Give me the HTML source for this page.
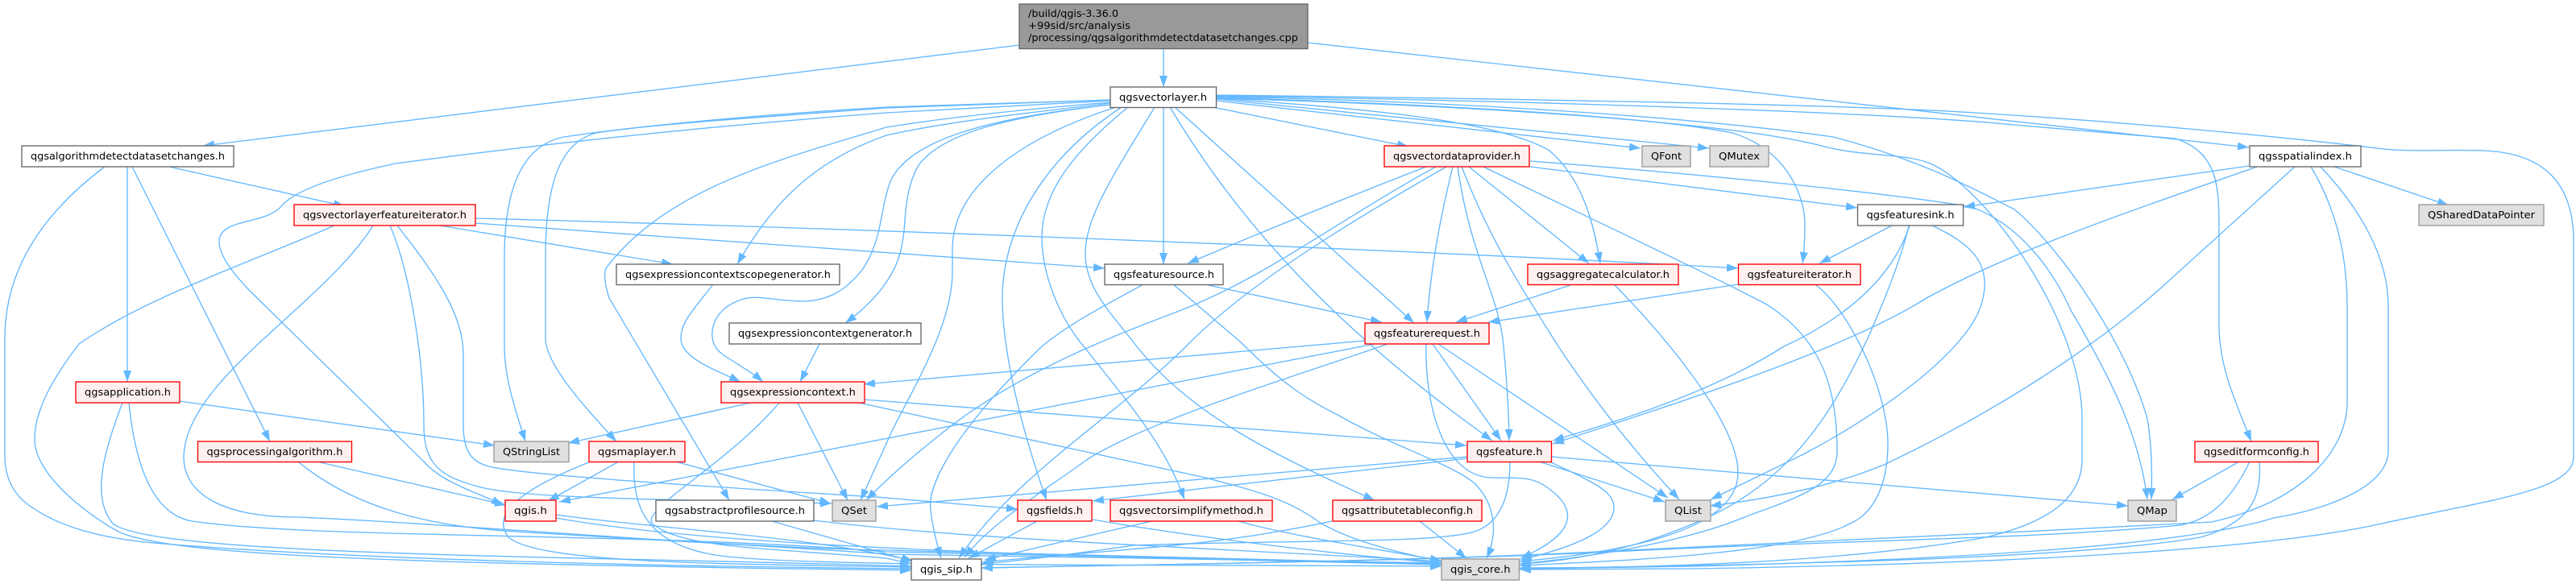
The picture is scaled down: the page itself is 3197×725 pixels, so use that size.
<!DOCTYPE html>
<html><head><meta charset="utf-8"><title>Include graph</title>
<style>
html,body{margin:0;padding:0;background:#fff;width:3197px;height:725px;overflow:hidden}
svg{display:block}
.e path{fill:none;stroke:#63b8ff;stroke-width:1.35;marker-end:url(#a)}
rect{stroke-width:1.35}
.w{fill:#fff;stroke:#666}
.r{fill:#fff0f0;stroke:#f00}
.g{fill:#e0e0e0;stroke:#999}
text{font-family:"DejaVu Sans",sans-serif;font-size:12.8px;fill:#000}
</style></head><body>
<svg xmlns="http://www.w3.org/2000/svg" width="3197" height="725" viewBox="0 0 3197 725">
<defs><marker id="a" markerUnits="userSpaceOnUse" markerWidth="15" markerHeight="11" refX="14" refY="5" orient="auto"><path d="M0,0L14,5L0,10Z" fill="#63b8ff"/></marker></defs>
<g class="e">
<path d="M1265 56L252 181"/>
<path d="M1444 61L1444 108"/>
<path d="M1623 53L2791 183"/>
<path d="M210 207L428 256"/>
<path d="M158 207L158 474"/>
<path d="M164 207L335 548"/>
<path d="M546 280L835 328"/>
<path d="M590 277L1371 333"/>
<path d="M590 271C1050 283 1750 310 2157 333"/>
<path d="M130 207Q6 300 6 420L6 570Q8 610 40 630Q90 665 190 674Q500 700 1131 706"/>
<path d="M415 280C300 330 180 370 98 427C65 470 43 510 43 545C43 590 110 640 147 660C210 690 500 700 1131 708"/>
<path d="M484 280C510 340 526 450 526 527C526 570 540 590 590 603C640 620 850 620 1032 625"/>
<path d="M493 280C540 340 575 390 575 440L575 527C575 560 585 572 603 578C640 590 900 605 1100 618L1263 632"/>
<path d="M463 280C400 380 231 470 228 567C228 610 270 642 370 642C560 650 900 680 1100 683Q1400 690 1789 700"/>
<path d="M1378 125L1100 140C900 155 700 175 491 203C420 218 368 235 350 255C330 280 272 270 272 300C272 320 295 345 309 360L526 573C550 600 590 610 624 627"/>
<path d="M1378 124L1100 133C950 142 800 155 700 170C650 180 626 230 626 320L626 430C626 470 640 510 652 548"/>
<path d="M1378 124L1100 134C950 145 800 155 740 165C690 178 677 240 677 320L677 420C677 450 720 500 765 548"/>
<path d="M1378 127C1280 135 1180 145 1100 158C980 195 830 230 752 333Q748 345 756 370L905 621"/>
<path d="M1378 128C1280 140 1180 150 1100 168C1010 200 960 250 915 328"/>
<path d="M1378 130C1240 145 1130 170 1105 225C1092 260 1095 300 1070 335C1050 360 1030 372 1000 374C960 374 940 365 920 372C880 385 880 420 888 430C890 440 925 455 947 474"/>
<path d="M1378 130C1250 145 1170 165 1140 205C1120 240 1125 280 1120 300C1115 340 1085 375 1049 401"/>
<path d="M1385 133C1270 170 1182 230 1182 310L1182 337C1182 400 1140 470 1108 533L1068 621"/>
<path d="M1392 133C1290 200 1244 290 1244 370C1244 440 1270 540 1299 621"/>
<path d="M1400 133C1330 190 1293 240 1293 295C1293 340 1315 395 1345 430C1400 500 1445 550 1470 620"/>
<path d="M1433 133C1380 220 1347 270 1347 315C1347 355 1375 385 1403 420C1470 510 1570 560 1706 621"/>
<path d="M1444 133L1444 328"/>
<path d="M1458 133L1755 401"/>
<path d="M1452 133C1540 280 1660 410 1852 547"/>
<path d="M1505 133L1748 182"/>
<path d="M1509 125L2036 184"/>
<path d="M1509 123L2121 184"/>
<path d="M1509 122C1700 135 1860 150 1923 187C1968 225 1980 290 1986 327"/>
<path d="M1509 121C1800 130 2050 145 2150 165C2215 185 2240 240 2240 280Q2240 305 2237 327"/>
<path d="M1509 122C1800 130 2150 150 2268 183C2320 195 2370 190 2400 205C2470 240 2584 400 2584 520L2584 570C2584 620 2540 650 2460 668C2300 695 2100 705 1886 705"/>
<path d="M1509 120C1800 125 2100 145 2275 170C2390 200 2460 240 2500 260C2560 310 2640 430 2665 520Q2672 560 2670 620"/>
<path d="M1509 119C1900 125 2350 140 2500 155L2700 172C2754 190 2754 233 2754 290L2754 410C2756 460 2775 500 2794 548"/>
<path d="M1509 118C1900 123 2300 130 2451 140C2650 152 2830 170 2942 183C2990 190 3030 185 3082 187C3160 190 3194 230 3194 300L3194 567C3194 610 3090 620 2942 653C2800 682 2500 700 2100 706L1886 707"/>
<path d="M1770 207Q1620 265 1474 327"/>
<path d="M1782 207C1650 280 1570 345 1461 387C1360 425 1250 470 1160 545Q1110 585 1075 621"/>
<path d="M1795 207C1650 290 1540 360 1470 432C1380 520 1260 590 1190 693"/>
<path d="M1419 353C1370 380 1330 400 1293 430C1190 530 1150 600 1155 633Q1158 660 1168 693"/>
<path d="M1456 353L1540 425C1590 475 1620 495 1660 515C1730 555 1800 575 1830 600C1855 625 1860 660 1845 693"/>
<path d="M1495 353L1715 400"/>
<path d="M1803 207C1785 280 1775 340 1771 400"/>
<path d="M1809 207C1825 320 1862 370 1866 430Q1872 490 1873 547"/>
<path d="M1814 207C1850 300 1890 360 1934 430Q2000 530 2084 620"/>
<path d="M1823 207L1972 327"/>
<path d="M1899 207L2305 258"/>
<path d="M1899 200C2100 215 2350 240 2447 257C2510 280 2550 340 2570 385C2620 470 2655 540 2665 620"/>
<path d="M1841 207C1950 260 2100 330 2191 377C2260 420 2280 480 2280 560C2280 600 2240 615 2170 640C2100 670 1990 690 1886 700"/>
<path d="M1952 353L1807 400"/>
<path d="M2003 353C2050 400 2157 520 2157 587C2157 640 2080 680 1886 697"/>
<path d="M2157 353L1847 400"/>
<path d="M2253 353C2300 390 2343 490 2343 550C2343 610 2320 640 2296 650C2230 685 2050 695 1886 702"/>
<path d="M2348 280L2258 327"/>
<path d="M2369 280C2360 320 2340 370 2318 420C2280 500 2230 590 2124 640C2060 670 1980 695 1886 700"/>
<path d="M2370 280C2350 340 2300 390 2214 430C2120 490 2000 525 1927 547"/>
<path d="M2398 280C2440 300 2472 323 2461 370C2450 430 2340 510 2240 563L2123 620"/>
<path d="M2801 207C2650 260 2500 310 2391 370C2280 440 2050 510 1927 551"/>
<path d="M2848 207L2679 360C2600 430 2480 510 2338 577C2270 605 2190 620 2122 628"/>
<path d="M2868 207C2900 260 2913 320 2913 380L2913 500C2913 550 2870 620 2745 648C2500 662 2300 668 2000 684C1800 695 1500 700 1218 705"/>
<path d="M2880 207C2930 260 2964 320 2964 380L2964 560C2964 600 2900 630 2822 643C2700 680 2400 695 2100 703L1886 706"/>
<path d="M2791 206L2437 257"/>
<path d="M2897 207L3039 255"/>
<path d="M2779 573L2696 620"/>
<path d="M2792 573C2770 620 2740 650 2696 653C2500 670 2300 670 2000 685C1800 695 1500 700 1218 705"/>
<path d="M2804 573C2808 620 2790 650 2731 667C2600 690 2300 700 1886 706"/>
<path d="M1925 567L2641 628"/>
<path d="M1821 567L1088 629"/>
<path d="M1821 569L1356 622"/>
<path d="M1910 573L2066 623"/>
<path d="M1923 573C1980 600 2003 610 2003 630C2003 660 1950 680 1887 695"/>
<path d="M1874 573C1874 620 1860 650 1830 660C1780 675 1600 670 1407 677C1350 685 1280 695 1218 700"/>
<path d="M1770 427C1768 500 1790 590 1850 593C1880 594 1900 590 1920 605C1970 640 1940 670 1887 693"/>
<path d="M1778 427L1863 547"/>
<path d="M1785 427L2070 618"/>
<path d="M1694 423L1072 477"/>
<path d="M1706 427L694 623"/>
<path d="M1722 427C1600 470 1430 520 1350 570C1280 620 1230 650 1197 692"/>
<path d="M1072 496L1820 553"/>
<path d="M1066 500L1496 593C1560 610 1600 620 1640 650C1680 672 1730 685 1789 697"/>
<path d="M990 500L1052 621"/>
<path d="M967 500C900 580 780 640 814 653C850 680 950 680 1100 693L1131 700"/>
<path d="M932 500L705 550"/>
<path d="M1017 427L993 474"/>
<path d="M885 353C860 385 845 400 845 420C845 445 890 460 919 474"/>
<path d="M223 498L614 553"/>
<path d="M152 500C125 570 115 620 140 650C190 690 700 690 1131 703"/>
<path d="M160 500C170 600 200 640 238 647C400 670 800 660 1100 685Q1500 695 1789 700"/>
<path d="M393 573L628 627"/>
<path d="M370 573C450 640 560 655 640 660C800 670 1000 680 1100 688Q1500 695 1789 699"/>
<path d="M768 573L680 622"/>
<path d="M838 573L1031 625"/>
<path d="M733 573C640 610 610 640 631 667C670 700 900 700 1131 704"/>
<path d="M787 573C785 620 795 670 877 687C950 705 1400 700 1789 703"/>
<path d="M690 639C800 655 1000 665 1133 696"/>
<path d="M690 643C900 680 1300 690 1789 701"/>
<path d="M958 647L1133 697"/>
<path d="M1010 646C1200 670 1500 680 1789 697"/>
<path d="M1287 647L1202 693"/>
<path d="M1356 645C1500 670 1680 690 1789 699"/>
<path d="M1429 647L1222 695"/>
<path d="M1537 647C1600 665 1700 680 1789 696"/>
<path d="M1653 647C1500 680 1400 680 1219 698"/>
<path d="M1762 647L1820 693"/>
</g>
<rect x="1265" y="5" width="358" height="55.5" fill="#999" stroke="#666"/>
<text x="1276" y="21" textLength="112" lengthAdjust="spacingAndGlyphs">/build/qgis-3.36.0</text>
<text x="1276" y="36" textLength="127" lengthAdjust="spacingAndGlyphs">+99sid/src/analysis</text>
<text x="1276" y="51" textLength="335" lengthAdjust="spacingAndGlyphs">/processing/qgsalgorithmdetectdatasetchanges.cpp</text>
<rect class="w" x="1378" y="108" width="131.5" height="25.5"/><text x="1389" y="125" textLength="109" lengthAdjust="spacingAndGlyphs">qgsvectorlayer.h</text>
<rect class="w" x="27" y="181" width="263" height="26"/><text x="38" y="198" textLength="241" lengthAdjust="spacingAndGlyphs">qgsalgorithmdetectdatasetchanges.h</text>
<rect class="r" x="365" y="254" width="225" height="26"/><text x="376" y="271" textLength="203" lengthAdjust="spacingAndGlyphs">qgsvectorlayerfeatureiterator.h</text>
<rect class="w" x="765" y="328" width="277" height="25.5"/><text x="776" y="345" textLength="255" lengthAdjust="spacingAndGlyphs">qgsexpressioncontextscopegenerator.h</text>
<rect class="r" x="94" y="474" width="129" height="26"/><text x="105" y="491" textLength="107" lengthAdjust="spacingAndGlyphs">qgsapplication.h</text>
<rect class="r" x="245.500" y="548" width="191" height="25.500"/><text x="256.500" y="565" textLength="169" lengthAdjust="spacingAndGlyphs">qgsprocessingalgorithm.h</text>
<rect class="g" x="613" y="548" width="93" height="25.500"/><text x="624" y="565" textLength="71" lengthAdjust="spacingAndGlyphs">QStringList</text>
<rect class="r" x="731" y="548" width="119" height="25.500"/><text x="742" y="565" textLength="97" lengthAdjust="spacingAndGlyphs">qgsmaplayer.h</text>
<rect class="r" x="627" y="621" width="63" height="26"/><text x="638" y="638" textLength="41" lengthAdjust="spacingAndGlyphs">qgis.h</text>
<rect class="w" x="814" y="621" width="196" height="26"/><text x="825" y="638" textLength="174" lengthAdjust="spacingAndGlyphs">qgsabstractprofilesource.h</text>
<rect class="g" x="1033" y="621" width="54" height="26"/><text x="1044" y="638" textLength="32" lengthAdjust="spacingAndGlyphs">QSet</text>
<rect class="r" x="895" y="474" width="178" height="26"/><text x="906" y="491" textLength="156" lengthAdjust="spacingAndGlyphs">qgsexpressioncontext.h</text>
<rect class="w" x="905" y="401" width="238" height="26"/><text x="916" y="418" textLength="216" lengthAdjust="spacingAndGlyphs">qgsexpressioncontextgenerator.h</text>
<rect class="w" x="1371" y="328" width="147" height="25.500"/><text x="1382" y="345" textLength="125" lengthAdjust="spacingAndGlyphs">qgsfeaturesource.h</text>
<rect class="r" x="1718" y="181" width="180" height="26"/><text x="1729" y="198" textLength="158" lengthAdjust="spacingAndGlyphs">qgsvectordataprovider.h</text>
<rect class="g" x="2038" y="181" width="60" height="26"/><text x="2049" y="198" textLength="38" lengthAdjust="spacingAndGlyphs">QFont</text>
<rect class="g" x="2122" y="181" width="73" height="26"/><text x="2133" y="198" textLength="51" lengthAdjust="spacingAndGlyphs">QMutex</text>
<rect class="r" x="1896" y="328" width="187" height="25.500"/><text x="1907" y="345" textLength="165" lengthAdjust="spacingAndGlyphs">qgsaggregatecalculator.h</text>
<rect class="r" x="2157.500" y="328" width="151.500" height="25.500"/><text x="2168.500" y="345" textLength="129.500" lengthAdjust="spacingAndGlyphs">qgsfeatureiterator.h</text>
<rect class="w" x="2305.500" y="254" width="131" height="26"/><text x="2316.500" y="271" textLength="109" lengthAdjust="spacingAndGlyphs">qgsfeaturesink.h</text>
<rect class="w" x="2792" y="181" width="138" height="26"/><text x="2803" y="198" textLength="116" lengthAdjust="spacingAndGlyphs">qgsspatialindex.h</text>
<rect class="g" x="3002" y="254" width="155" height="26"/><text x="3013" y="271" textLength="133" lengthAdjust="spacingAndGlyphs">QSharedDataPointer</text>
<rect class="r" x="1694" y="401" width="154" height="26"/><text x="1705" y="418" textLength="132" lengthAdjust="spacingAndGlyphs">qgsfeaturerequest.h</text>
<rect class="r" x="1821" y="548" width="104.500" height="25.500"/><text x="1832" y="565" textLength="82.500" lengthAdjust="spacingAndGlyphs">qgsfeature.h</text>
<rect class="r" x="1263" y="621" width="92" height="26"/><text x="1274" y="638" textLength="70" lengthAdjust="spacingAndGlyphs">qgsfields.h</text>
<rect class="r" x="1378" y="621" width="201" height="26"/><text x="1389" y="638" textLength="179" lengthAdjust="spacingAndGlyphs">qgsvectorsimplifymethod.h</text>
<rect class="r" x="1654" y="621" width="185" height="26"/><text x="1665" y="638" textLength="163" lengthAdjust="spacingAndGlyphs">qgsattributetableconfig.h</text>
<rect class="g" x="2067" y="621" width="56" height="26"/><text x="2078" y="638" textLength="34" lengthAdjust="spacingAndGlyphs">QList</text>
<rect class="w" x="1131" y="694" width="87" height="26"/><text x="1142" y="711" textLength="65" lengthAdjust="spacingAndGlyphs">qgis_sip.h</text>
<rect class="g" x="1789" y="694" width="96.500" height="26"/><text x="1800" y="711" textLength="74.500" lengthAdjust="spacingAndGlyphs">qgis_core.h</text>
<rect class="r" x="2724" y="548" width="153" height="25.500"/><text x="2735" y="565" textLength="131" lengthAdjust="spacingAndGlyphs">qgseditformconfig.h</text>
<rect class="g" x="2641" y="621" width="60" height="26"/><text x="2652" y="638" textLength="38" lengthAdjust="spacingAndGlyphs">QMap</text>
</svg>
</body></html>
